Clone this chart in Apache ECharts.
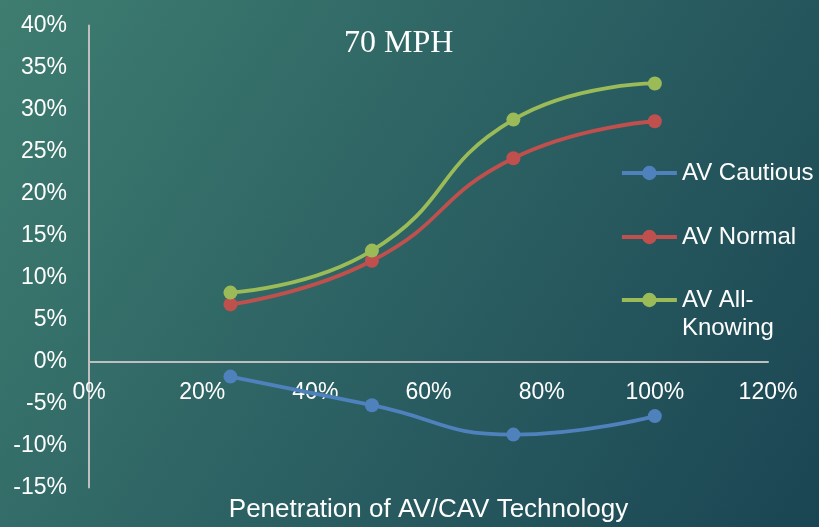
<!DOCTYPE html>
<html>
<head>
<meta charset="utf-8">
<script src="https://cdn.jsdelivr.net/npm/echarts@6/dist/echarts.min.js"></script>
<style>
  html, body { margin: 0; padding: 0; }
  #chart { width: 819px; height: 527px; }
</style>
</head>
<body>
<div id="chart"></div>
<script>
// Share of improvement (%) by AV/CAV market penetration (%), 70 MPH
const penetration = [25, 50, 75, 100];
const avCautious = [-1.8, -5.2, -8.7, -6.5];
const avNormal = [6.8, 12.0, 24.2, 28.6];
const avAllKnowing = [8.2, 13.2, 28.8, 33.1];
const seriesNames = ['AV Cautious', 'AV Normal', 'AV All-Knowing'];
const seriesColors = ['#4f81bd', '#c0504d', '#9bbb59'];

const Y_MIN = -15, Y_MAX = 40, Y_STEP = 5;

const chart = echarts.init(document.getElementById('chart'));
const sans = '"Liberation Sans", Arial, sans-serif';

const gridBox = { left: 89, right: 51, top: 25.5, bottom: 39.5 };
const plotHeight = 527 - gridBox.top - gridBox.bottom;
// lift the category axis so it runs along y = 0 (labels and name follow it)
const zeroLift = (0 - Y_MIN) / (Y_MAX - Y_MIN) * plotHeight;

function pairs(ys) {
  return penetration.map((x, i) => [x, ys[i]]);
}

function lineSeries(name, ys, color) {
  return {
    name: name,
    type: 'line',
    data: pairs(ys),
    smooth: 0.5,
    symbol: 'circle',
    symbolSize: 14,
    lineStyle: { width: 3.8, color: color },
    itemStyle: { color: color },
    z: 3
  };
}

const legendBase = {
  orient: 'vertical',
  left: 620,
  padding: 0,
  itemWidth: 55,
  itemHeight: 18,
  lineStyle: { width: 3.8 },
  textStyle: { color: '#ffffff', fontFamily: sans, fontSize: 24, lineHeight: 28 }
};

chart.setOption({
  backgroundColor: {
    type: 'linear', x: 0, y: 0, x2: 1, y2: 1,
    colorStops: [
      { offset: 0, color: '#3e7d70' },
      { offset: 0.5, color: '#2c6163' },
      { offset: 1, color: '#1a4553' }
    ]
  },
  animation: false,
  title: {
    text: '70 MPH',
    left: 344,
    top: 28,
    padding: 0,
    textStyle: { color: '#ffffff', fontFamily: '"Liberation Serif", "Times New Roman", serif', fontSize: 32, fontWeight: 'normal' }
  },
  legend: [
    Object.assign({}, legendBase, { top: 159, data: [seriesNames[0]] }),
    Object.assign({}, legendBase, { top: 223, data: [seriesNames[1]] }),
    Object.assign({}, legendBase, {
      top: 258,
      data: [seriesNames[2]],
      // blank first line keeps "AV All-" level with the marker
      formatter: function () { return ' \nAV All-\nKnowing'; }
    })
  ],
  grid: Object.assign({ containLabel: false, outerBoundsMode: 'none' }, gridBox),
  xAxis: {
    type: 'value',
    min: 0,
    max: 120,
    interval: 20,
    position: 'bottom',
    offset: -zeroLift,
    name: 'Penetration of AV/CAV Technology',
    nameLocation: 'middle',
    nameGap: 135,
    nameTextStyle: { color: '#ffffff', fontFamily: sans, fontSize: 26 },
    axisLine: { onZero: false, lineStyle: { color: '#bfbfbf', width: 2 } },
    axisTick: { show: false },
    splitLine: { show: false },
    axisLabel: { color: '#ffffff', fontFamily: sans, fontSize: 23, margin: 20, formatter: '{value}%' }
  },
  yAxis: {
    type: 'value',
    min: Y_MIN,
    max: Y_MAX,
    interval: Y_STEP,
    axisLine: { show: true, onZero: false, lineStyle: { color: '#bfbfbf', width: 2 } },
    axisTick: { show: false },
    splitLine: { show: false },
    axisLabel: { color: '#ffffff', fontFamily: sans, fontSize: 23, margin: 22, formatter: '{value}%' }
  },
  series: [
    lineSeries(seriesNames[0], avCautious, seriesColors[0]),
    lineSeries(seriesNames[1], avNormal, seriesColors[1]),
    lineSeries(seriesNames[2], avAllKnowing, seriesColors[2])
  ]
});
</script>
</body>
</html>
